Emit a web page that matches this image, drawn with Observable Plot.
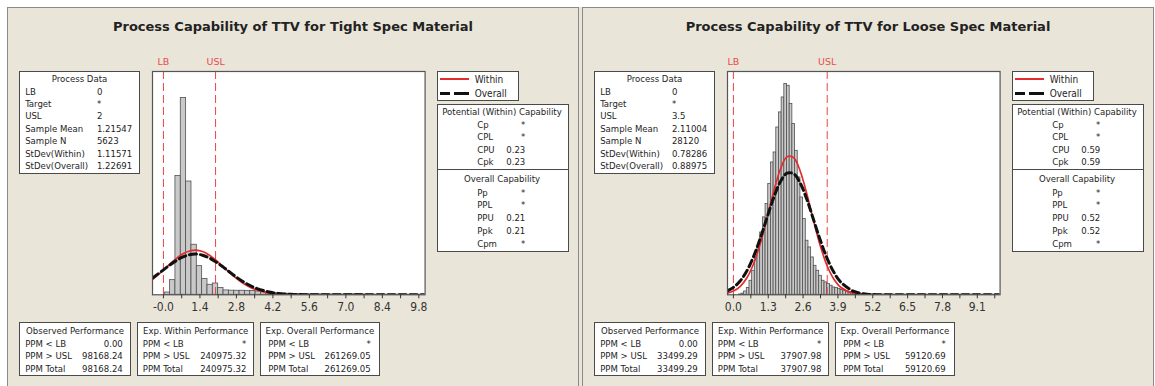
<!DOCTYPE html>
<html><head><meta charset="utf-8">
<script src="https://cdn.jsdelivr.net/npm/d3@7"></script>
<script src="https://cdn.jsdelivr.net/npm/@observablehq/plot@0.6"></script>
<style>
html,body{margin:0;padding:0;background:#fff;}
#root{position:relative;width:1155px;height:386px;overflow:hidden;font-family:"DejaVu Sans Condensed","DejaVu Sans",sans-serif;color:#1e1e1e;}
.panel{position:absolute;background:#EAE5D9;border:1px solid #8a8a8a;border-bottom:none;box-sizing:border-box;}
.title{position:absolute;font-family:"DejaVu Sans",sans-serif;font-weight:bold;font-size:13px;white-space:nowrap;line-height:1;color:#222;}
.box{position:absolute;background:#fff;border:1.5px solid #4a4a4a;box-sizing:border-box;}
.t{position:absolute;font-size:9.5px;white-space:nowrap;line-height:1;}
.ln{position:absolute;}
.plot{position:absolute;}
</style></head>
<body><div id="root"></div>
<script>
// ---------- data ----------
const tightTitle = "Process Capability of TTV for Tight Spec Material";
const looseTitle = "Process Capability of TTV for Loose Spec Material";
const processLabels = ["LB","Target","USL","Sample Mean","Sample N","StDev(Within)","StDev(Overall)"];
const tightProcess = ["0","*","2","1.21547","5623","1.11571","1.22691"];
const looseProcess = ["0","*","3.5","2.11004","28120","0.78286","0.88975"];
const potentialLabels = ["Cp","CPL","CPU","Cpk"];
const tightPotential = ["*","*","0.23","0.23"];
const loosePotential = ["*","*","0.59","0.59"];
const overallCapLabels = ["Pp","PPL","PPU","Ppk","Cpm"];
const tightOverallCap = ["*","*","0.21","0.21","*"];
const looseOverallCap = ["*","*","0.52","0.52","*"];
const perfTitles = ["Observed Performance","Exp. Within Performance","Exp. Overall Performance"];
const perfLabels = ["PPM < LB","PPM > USL","PPM Total"];
const tightPerf = [["0.00","98168.24","98168.24"],["*","240975.32","240975.32"],["*","261269.05","261269.05"]];
const loosePerf = [["0.00","33499.29","33499.29"],["*","37907.98","37907.98"],["*","59120.69","59120.69"]];
const legendNames = ["Within","Overall"];
const specNames = ["LB","USL"];
const tightSpecs = [0, 2];
const looseSpecs = [0, 3.5];

const tightTicks = [0,0.7,1.4,2.1,2.8,3.5,4.2,4.9,5.6,6.3,7.0,7.7,8.4,9.1,9.8];
const tightTickLabels = ["-0.0","","1.4","","2.8","","4.2","","5.6","","7.0","","8.4","","9.8"];
const looseTicks = [0,0.65,1.3,1.95,2.6,3.25,3.9,4.55,5.2,5.85,6.5,7.15,7.8,8.45,9.1,9.75];
const looseTickLabels = ["0.0","","1.3","","2.6","","3.9","","5.2","","6.5","","7.8","","9.1",""];
const tightRange = [-0.42, 10.04];
const looseRange = [-0.22, 9.95];

// histogram counts (bin start, bin width, counts)
const tightBinStart = 0.05, tightBinWidth = 0.205;
const tightCounts = [21,135,1094,1813,1044,461,264,145,92,104,62,40,38,37,37,36,35,30,24,18,14,12,10,9,7,6,5,4,4,3,3,3,3,3,4,5,5,3,2,1,1,1,1,1,1,1,1,1];
const looseBinStart = 0.2, looseBinWidth = 0.1;
const looseCounts = [3,12,34,69,144,247,384,487,641,796,933,1139,1361,1464,1721,1876,2030,2168,2150,1962,1756,1481,1207,1001,779,556,487,384,298,247,195,144,127,110,93,75,69,60,50,42,35,28,22,17,13,10,8,6,5,4,3,3,2,2,2,2,1,1,1,1,1,1,1,1,1,1,1,1,1,1,1,1,1,1,1,1,1,1,1,1,1,1,1,1,1,1,1,1,1,1,1,1,1,1,1,1,1];
const tightYMax = 2058, looseYMax = 2297;

// fitted curves (same count units as bars)
const tightCurveX = [-0.42,0,0.25,0.5,0.75,1.0,1.25,1.5,1.75,2.0,2.25,2.5,2.75,3.0,3.25,3.5,4.0,4.5,5.0,5.5,6.0,7.0,8.0,9.0,10.04];
const tightWithin = [141,228,284,336,378,404,412,399,367,322,268,212,160,115,78,51,18,5.4,1.3,0.3,0.04,0,0,0,0];
const tightOverall = [154,230,275,316,349,369,375,365,341,305,263,217,171,130,95,66,28.5,10.4,3.2,0.8,0.2,0,0,0,0];
const looseCurveX = [-0.22,0,0.25,0.5,0.75,1.0,1.25,1.5,1.75,2.0,2.25,2.5,2.75,3.0,3.25,3.5,3.75,4.0,4.5,5.0,5.5,6.0,7.0,8.0,9.0,9.95];
const looseWithin = [17,38,85,173,317,525,784,1058,1289,1419,1410,1266,1026,751,496,296,160,78,13.6,1.6,0.12,0,0,0,0,0];
const looseOverall = [41,76,142,245,392,579,790,997,1162,1251,1245,1145,974,764,555,372,231,132,34,6.5,0.9,0.08,0,0,0,0];

// ---------- helpers ----------
const root = document.getElementById("root");
function div(cls, x, y, w, h, style) {
  const d = document.createElement("div");
  d.className = cls;
  Object.assign(d.style, {left: x + "px", top: y + "px", width: w + "px", height: h + "px"}, style || {});
  root.appendChild(d);
  return d;
}
function txt(x, y, s, anchor, cls) {
  const t = document.createElement("div");
  t.className = cls || "t";
  t.textContent = s;
  t.style.left = x + "px";
  t.style.top = y + "px";
  const tx = anchor === "middle" ? "-50%" : anchor === "end" ? "-100%" : "0";
  t.style.transform = `translate(${tx},-50%)`;
  root.appendChild(t);
  return t;
}

function histogram(cfg) {
  const frameW = 272.6, frameH = 223.3, ml = 12, mr = 12, mt = 18, mb = 28;
  const bars = cfg.counts.map((c, i) => ({x1: cfg.binStart + i * cfg.binWidth, x2: cfg.binStart + (i + 1) * cfg.binWidth, y: c}));
  const within = cfg.curveX.map((x, i) => ({x, y: cfg.within[i]}));
  const overall = cfg.curveX.map((x, i) => ({x, y: cfg.overall[i]}));
  const specs = cfg.specs.map((v, i) => ({v, name: specNames[i]}));
  const fmt = d => { const j = cfg.ticks.findIndex(t => Math.abs(t - d) < 1e-9); return j >= 0 ? cfg.tickLabels[j] : ""; };
  const svg = Plot.plot({
    width: frameW + ml + mr, height: frameH + mt + mb,
    marginLeft: ml, marginRight: mr, marginTop: mt, marginBottom: mb,
    style: {background: "transparent", overflow: "visible", fontFamily: '"DejaVu Sans Condensed","DejaVu Sans",sans-serif', fontSize: "12px", color: "#333"},
    x: {domain: cfg.range},
    y: {domain: [0, cfg.yMax], axis: null},
    marks: [
      Plot.frame({fill: "white", stroke: null}),
      Plot.rectY(bars, {x1: "x1", x2: "x2", y: "y", fill: "#c9c9c9", stroke: "#505050", strokeWidth: 0.8}),
      Plot.ruleX(specs, {x: "v", stroke: "#ee4040", strokeWidth: 1, strokeDasharray: "8,4"}),
      Plot.text(specs, {x: "v", text: "name", frameAnchor: "top", dy: -6, lineAnchor: "bottom", fill: "#ea4a4a", fontSize: 9.5, fontFamily: '"DejaVu Sans",sans-serif'}),
      Plot.line(within, {x: "x", y: "y", stroke: "#e52b2b", strokeWidth: 1.7, curve: "catmull-rom", clip: true}),
      Plot.line(overall, {x: "x", y: "y", stroke: "#111", strokeWidth: 3, strokeDasharray: "7,4", curve: "catmull-rom", clip: true}),
      Plot.frame({stroke: "#555", strokeWidth: 1.2}),
      Plot.axisX({ticks: cfg.ticks, tickFormat: fmt, tickSize: 4, tickPadding: 4, label: null, stroke: "#333"})
    ]
  });
  svg.classList.add("plot");
  svg.style.left = (cfg.ox + 151.7 - ml) + "px";
  svg.style.top = (70.7 - mt) + "px";
  svg.style.position = "absolute";
  root.appendChild(svg);
}

function panel(ox, d) {
  div("panel", ox + 7.4, 7.3, 571.3, 420);
  txt(ox + 293, 25.5, d.title, "middle", "title");
  // Process Data
  div("box", ox + 19.2, 70.7, 120.6, 103.3);
  txt(ox + 79.5, 79, "Process Data", "middle");
  processLabels.forEach((l, i) => {
    txt(ox + 25.2, 91.5 + 12.4 * i, l);
    txt(ox + 96.9, 91.5 + 12.4 * i, d.process[i]);
  });
  // legend
  div("box", ox + 437, 70.7, 82.4, 30);
  div("ln", ox + 440, 78, 29, 0, {borderTop: "2px solid #e52b2b"});
  div("ln", ox + 440, 92, 9.5, 0, {borderTop: "3px solid #111"});
  div("ln", ox + 454.3, 92, 14.7, 0, {borderTop: "3px solid #111"});
  txt(ox + 474.7, 79.5, legendNames[0]).style.fontSize = "10px";
  txt(ox + 474.7, 93.5, legendNames[1]).style.fontSize = "10px";
  // Potential (Within) Capability
  div("box", ox + 437, 104, 131.6, 66);
  txt(ox + 502, 112.3, "Potential (Within) Capability", "middle");
  potentialLabels.forEach((l, i) => {
    txt(ox + 477.2, 124.6 + 12.6 * i, l);
    txt(ox + 525.3, 124.6 + 12.6 * i, d.potential[i], "end");
  });
  // Overall Capability
  div("box", ox + 437, 168.5, 131.6, 83.5);
  txt(ox + 502, 179, "Overall Capability", "middle");
  overallCapLabels.forEach((l, i) => {
    txt(ox + 477.2, 192.5 + 12.9 * i, l);
    txt(ox + 525.3, 192.5 + 12.9 * i, d.overallCap[i], "end");
  });
  // performance boxes
  const bx = [[19.2, 111.8, 25.2, 122.8], [136.9, 117.6, 142.8, 246.4], [259.7, 120.3, 268.2, 370.7]];
  bx.forEach((b, k) => {
    div("box", ox + b[0], 322, b[1], 53.7);
    txt(ox + b[0] + b[1] / 2, 330.7, perfTitles[k], "middle");
    perfLabels.forEach((l, i) => {
      txt(ox + b[2], 343.6 + 12.5 * i, l);
      txt(ox + b[3], 343.6 + 12.5 * i, d.perf[k][i], "end");
    });
  });
  histogram(Object.assign({ox}, d.hist));
}

div("panel", 578, 7.3, 5, 420, {border: "none"});
panel(0, {
  title: tightTitle, process: tightProcess, potential: tightPotential, overallCap: tightOverallCap, perf: tightPerf,
  hist: {counts: tightCounts, binStart: tightBinStart, binWidth: tightBinWidth, yMax: tightYMax, range: tightRange,
         ticks: tightTicks, tickLabels: tightTickLabels, specs: tightSpecs, curveX: tightCurveX, within: tightWithin, overall: tightOverall}
});
panel(575, {
  title: looseTitle, process: looseProcess, potential: loosePotential, overallCap: looseOverallCap, perf: loosePerf,
  hist: {counts: looseCounts, binStart: looseBinStart, binWidth: looseBinWidth, yMax: looseYMax, range: looseRange,
         ticks: looseTicks, tickLabels: looseTickLabels, specs: looseSpecs, curveX: looseCurveX, within: looseWithin, overall: looseOverall}
});
</script>
</body></html>
